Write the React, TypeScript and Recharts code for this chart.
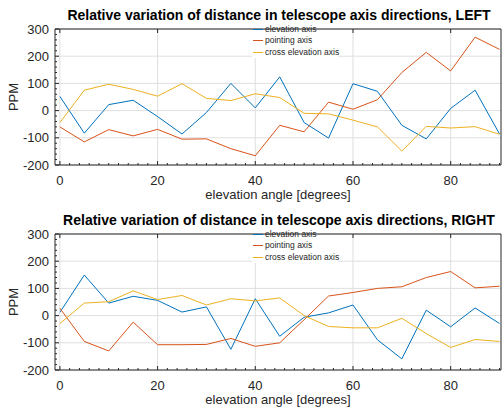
import { LineChart, Line, XAxis, YAxis, CartesianGrid } from 'recharts'

const ANGLES = [0, 5, 10, 15, 20, 25, 30, 35, 40, 45, 50, 55, 60, 65, 70, 75, 80, 85, 90]
const X_TICKS = [0, 20, 40, 60, 80]
const X_MINOR = [0, 2, 4, 6, 8, 10, 12, 14, 16, 18, 20, 22, 24, 26, 28, 30, 32, 34, 36, 38, 40, 42, 44, 46, 48, 50, 52, 54, 56, 58, 60, 62, 64, 66, 68, 70, 72, 74, 76, 78, 80, 82, 84, 86, 88, 90]
const Y_TICKS = [-200, -100, 0, 100, 200, 300]
const Y_MINOR = [-200, -180, -160, -140, -120, -100, -80, -60, -40, -20, 0, 20, 40, 60, 80, 100, 120, 140, 160, 180, 200, 220, 240, 260, 280, 300]

const SERIES_NAMES = ['elevation axis', 'pointing axis', 'cross elevation axis']
const SERIES_COLORS = ['#0072BD', '#D95319', '#EDB120']

const LEFT_ELEVATION = [52, -83, 22, 38, -22, -86, -7, 100, 10, 124, -44, -101, 99, 71, -54, -104, 8, 75, -86]
const LEFT_POINTING = [-60, -115, -70, -93, -69, -105, -104, -140, -166, -54, -78, 31, 5, 40, 140, 214, 146, 270, 225]
const LEFT_CROSS = [-44, 75, 97, 78, 53, 99, 45, 37, 62, 48, -10, -12, -35, -60, -149, -58, -64, -59, -87]

const RIGHT_ELEVATION = [12, 149, 46, 71, 56, 13, 32, -124, 62, -76, -6, 10, 39, -89, -159, 20, -41, 28, -29]
const RIGHT_POINTING = [27, -95, -130, -24, -107, -107, -106, -84, -113, -100, -15, 72, 85, 100, 106, 140, 162, 102, 108]
const RIGHT_CROSS = [-29, 46, 51, 91, 59, 74, 39, 62, 54, 65, 0, -40, -45, -45, -10, -66, -117, -88, -95]

const AXIS = '#262626'
const GRID = '#dfdfdf'
const FONT = '"Liberation Sans", Arial, Helvetica, sans-serif'

const BottomTick = ({ x, y, payload }: any) => {
  const v = payload.value
  const major = X_TICKS.includes(v)
  return (
    <g>
      <line x1={x} y1={y} x2={x} y2={y - (major ? 4 : 2)} stroke={AXIS} />
      {major && (
        <text x={x} y={y + 15} textAnchor="middle" dominantBaseline="central" fontSize={13} fill={AXIS} fontFamily={FONT}>
          {v}
        </text>
      )}
    </g>
  )
}

const TopTick = ({ x, y }: any) => <line x1={x} y1={y} x2={x} y2={y + 4} stroke={AXIS} />

const LeftTick = ({ x, y, payload }: any) => {
  const v = payload.value
  const major = v % 100 === 0
  return (
    <g>
      <line x1={x} y1={y} x2={x + (major ? 4 : 2)} y2={y} stroke={AXIS} />
      {major && (
        <text x={x - 6} y={y} textAnchor="end" dominantBaseline="central" fontSize={13} fill={AXIS} fontFamily={FONT}>
          {v}
        </text>
      )}
    </g>
  )
}

const RightTick = ({ x, y }: any) => <line x1={x} y1={y} x2={x - 4} y2={y} stroke={AXIS} />

function Panel({ title, series, top }: { title: string; series: number[][]; top: number }) {
  const data = ANGLES.map((a, i) => ({ angle: a, s0: series[0][i], s1: series[1][i], s2: series[2][i] }))
  return (
    <div style={{ position: 'absolute', left: 0, top, width: 502, height: 200 }}>
      <LineChart width={502} height={200} data={data} margin={{ top: 28, right: 0, bottom: 0, left: 0 }}>
        <CartesianGrid stroke={GRID} horizontalValues={Y_TICKS} verticalValues={X_TICKS} />
        <XAxis dataKey="angle" type="number" domain={[-1, 90.3]} ticks={X_MINOR} interval={0}
          height={35} tickSize={0} tickMargin={0} tickLine={false} tick={BottomTick} stroke={AXIS} />
        <XAxis xAxisId="t" dataKey="angle" type="number" domain={[-1, 90.3]} ticks={X_TICKS} interval={0}
          orientation="top" height={1} tickSize={0} tickMargin={0} tickLine={false} tick={TopTick} stroke={AXIS} />
        <YAxis domain={[-200, 300]} ticks={Y_MINOR} interval={0} width={55}
          tickSize={0} tickMargin={0} tickLine={false} tick={LeftTick} stroke={AXIS} />
        <YAxis yAxisId="r" orientation="right" domain={[-200, 300]} ticks={Y_TICKS} interval={0} width={1}
          tickSize={0} tickMargin={0} tickLine={false} tick={RightTick} stroke={AXIS} />
        {SERIES_NAMES.map((n, k) => (
          <Line key={n} type="linear" dataKey={`s${k}`} name={n} stroke={SERIES_COLORS[k]}
            strokeWidth={1} dot={false} isAnimationActive={false} />
        ))}
      </LineChart>

      <div style={{ position: 'absolute', left: 0, width: 558, top: 7, textAlign: 'center', fontWeight: 'bold', fontSize: 14, lineHeight: '16px', color: '#000', whiteSpace: 'nowrap' }}>
        {title}
      </div>
      <div style={{ position: 'absolute', left: 0, width: 556, top: 189, textAlign: 'center', fontSize: 13, lineHeight: '11px', color: AXIS }}>
        elevation angle [degrees]
      </div>
      <div style={{ position: 'absolute', left: 14, top: 97, transform: 'translate(-50%, -50%) rotate(-90deg)', fontSize: 13, lineHeight: '16px', color: AXIS }}>
        PPM
      </div>

      <div style={{ position: 'absolute', left: 252, top: 30, width: 86, height: 28, background: '#fff' }} />
      {SERIES_NAMES.map((n, k) => (
        <div key={n} style={{ position: 'absolute', left: 253, top: [29, 40, 52][k] - 6, height: 12, display: 'flex', alignItems: 'center', fontSize: 8.5, color: '#262626', whiteSpace: 'nowrap' }}>
          <span style={{ display: 'inline-block', width: 10, height: 1, background: SERIES_COLORS[k], marginRight: 2 }} />
          {n}
        </div>
      ))}
    </div>
  )
}

export default function App() {
  return (
    <div style={{ position: 'absolute', left: 0, top: 0, width: 502, height: 407, background: '#fff', fontFamily: FONT, overflow: 'hidden' }}>
      <Panel title="Relative variation of distance in telescope axis directions, LEFT"
        series={[LEFT_ELEVATION, LEFT_POINTING, LEFT_CROSS]} top={0} />
      <Panel title="Relative variation of distance in telescope axis directions, RIGHT"
        series={[RIGHT_ELEVATION, RIGHT_POINTING, RIGHT_CROSS]} top={205} />
    </div>
  )
}
